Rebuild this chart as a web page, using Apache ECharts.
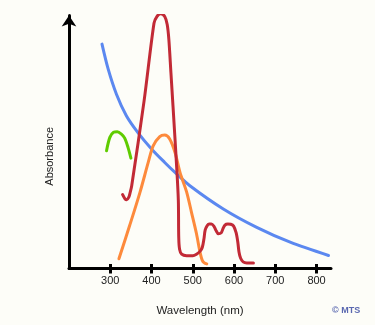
<!DOCTYPE html>
<html><head><meta charset="utf-8">
<script src="https://cdn.jsdelivr.net/npm/echarts@6/dist/echarts.min.js"></script>
<style>html,body{margin:0;padding:0;background:#fdfdf8}#c{width:375px;height:325px}</style>
</head><body><div id="c"></div>
<script>
// Tick labels on the wavelength axis (nm)
const tickValues = [300, 400, 500, 600, 700, 800];

// Curves: [wavelength nm, absorbance (arbitrary units)]
const blueCurve = [[280,87.8],[295,78.0],[315,68.2],[339,59.8],[367,53.2],[400,46.8],[432,41.5],[457,37.6],[493,32.4],[574,23.3],[655,16.1],[736,10.3],[829,5.1]];

const greenCurve = [[291,46.1],[299,51.3],[308,53.3],[317,53.5],[327,52.6],[335,51.0],[343,47.4],[350,43.2]];

const orangeCurve = [[321,3.8],[347,16.8],[372,29.8],[392,41.5],[404,48.0],[420,51.6],[432,52.2],[444,50.7],[457,45.4],[469,37.6],[485,30.0],[497,21.9],[509,13.6],[518,6.0],[523,3.2],[528,2.2],[534,1.8]];

const redCurve = [[330,28.9],[336,27.2],[340,26.9],[345,27.9],[348,29.6],[352,32.4],[382,65.6],[406,96.0],[413,98.6],[422,99.7],[432,98.6],[438,95.5],[442,89.7],[447,76.7],[452,63.7],[461,39.6],[465,26.6],[466,12.0],[468,7.5],[473,5.6],[485,5.0],[500,5.0],[509,5.6],[518,6.8],[523,8.2],[527,11.5],[530,15.0],[535,16.8],[540,17.4],[545,17.4],[551,16.6],[556,15.0],[562,13.6],[569,14.0],[573,15.5],[578,17.0],[585,17.4],[592,17.3],[599,16.6],[605,14.0],[609,10.5],[612,6.5],[616,4.0],[622,2.6],[631,2.2],[647,2.2]];

const chart = echarts.init(document.getElementById('c'), null, {renderer:'canvas'});
const font = '"Liberation Sans", Arial, sans-serif';
function line(data, color){
  return {type:'line', data:data, symbol:'none', smooth:0.3, silent:true,
    lineStyle:{color:color, width:3, cap:'round', join:'round'}};
}
chart.setOption({
  backgroundColor:'#fdfdf8',
  animation:false,
  grid:{left:69, right:44, top:15.5, bottom:56.5},
  xAxis:[{
    type:'value', min:200, max:835, interval:100,
    splitLine:{show:false},
    axisLine:{show:true, lineStyle:{color:'#000', width:3}},
    axisTick:{show:true, customValues:tickValues, length:5, lineStyle:{color:'#000', width:3}},
    axisLabel:{customValues:tickValues, color:'#222', fontSize:11, fontFamily:font, margin:7},
    name:'Wavelength (nm)', nameLocation:'middle', nameGap:36,
    nameTextStyle:{color:'#222', fontSize:11.5, fontFamily:font}
  },{
    type:'value', min:200, max:835, interval:100, position:'bottom',
    splitLine:{show:false},
    axisLine:{show:false},
    axisTick:{show:true, inside:true, customValues:tickValues, length:4.5, lineStyle:{color:'#000', width:3}},
    axisLabel:{show:false}
  }],
  yAxis:{
    type:'value', min:0, max:99,
    splitLine:{show:false}, axisTick:{show:false}, axisLabel:{show:false},
    axisLine:{show:true, symbol:['none','arrow'], symbolSize:[11,11], lineStyle:{color:'#000', width:3}}
  },
  graphic:[
    {type:'text', left:44, top:127, rotation:Math.PI/2, style:{text:'Absorbance', fill:'#222', font:'11px '+font}},
    {type:'text', left:332, top:306, style:{text:'© MTS', fill:'#5a68b0', font:'bold 9px '+font}}
  ],
  series:[
    line(blueCurve,'#5b88f0'),
    line(greenCurve,'#5fcc00'),
    line(orangeCurve,'#fd8a3c'),
    line(redCurve,'#c22a36')
  ]
});
</script></body></html>
